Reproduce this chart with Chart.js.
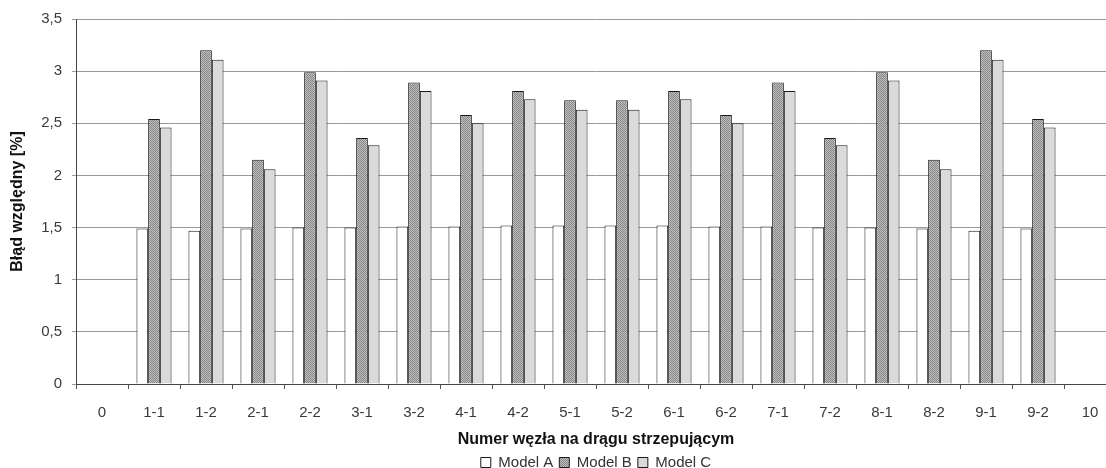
<!DOCTYPE html>
<html>
<head>
<meta charset="utf-8">
<script src="https://cdn.jsdelivr.net/npm/chart.js@4.4.0/dist/chart.umd.min.js"></script>
<style>
  html, body { margin: 0; padding: 0; background: #fff; overflow: hidden; }
  #wrap { width: 1160px; height: 468px; }
</style>
</head>
<body>
<div id="wrap"><canvas id="chart" width="1160" height="468"></canvas></div>
<script>
var labels = ['0', '1-1', '1-2', '2-1', '2-2', '3-1', '3-2', '4-1', '4-2', '5-1',
              '5-2', '6-1', '6-2', '7-1', '7-2', '8-1', '8-2', '9-1', '9-2', '10'];

var modelA = [null, 1.49, 1.47, 1.49, 1.50, 1.50, 1.51, 1.51, 1.52, 1.52,
              1.52, 1.52, 1.51, 1.51, 1.50, 1.50, 1.49, 1.47, 1.49, null];
var modelB = [null, 2.54, 3.20, 2.15, 2.99, 2.36, 2.89, 2.58, 2.81, 2.72,
              2.72, 2.81, 2.58, 2.89, 2.36, 2.99, 2.15, 3.20, 2.54, null];
var modelC = [null, 2.46, 3.11, 2.06, 2.91, 2.29, 2.81, 2.50, 2.73, 2.63,
              2.63, 2.73, 2.50, 2.81, 2.29, 2.91, 2.06, 3.11, 2.46, null];

// stippled grey fill like the old excel pattern
function stipple()
{
  var c = document.createElement('canvas');
  c.width = 2; c.height = 2;
  var ctx = c.getContext('2d');
  ctx.fillStyle = '#c0c0c0';
  ctx.fillRect(0, 0, 2, 2);
  ctx.fillStyle = '#858585';
  ctx.fillRect(0, 0, 1, 1);
  ctx.fillRect(1, 1, 1, 1);
  return ctx.createPattern(c, 'repeat');
}

function comma(v)
{
  return String(v).replace('.', ',');
}

var font = "'Liberation Sans', Arial, sans-serif";

new Chart(document.getElementById('chart'), {
  type: 'bar',
  data: {
    labels: labels,
    datasets: [
      { label: 'Model A', data: modelA, backgroundColor: '#ffffff', borderColor: '#1a1a1a', borderWidth: 1 },
      { label: 'Model B', data: modelB, backgroundColor: stipple(), borderColor: '#1a1a1a', borderWidth: 1 },
      { label: 'Model C', data: modelC, backgroundColor: '#dadada', borderColor: '#1a1a1a', borderWidth: 1 }
    ]
  },
  options: {
    responsive: false,
    animation: false,
    layout: { padding: { left: 0, right: 44, top: 15, bottom: -12 } },
    datasets: { bar: { categoryPercentage: 0.675, barPercentage: 1 } },
    plugins: {
      tooltip: { enabled: false },
      legend: {
        position: 'bottom',
        fullSize: false,
        labels: {
          font: { family: font, size: 15 },
          color: '#333',
          boxWidth: 10,
          boxHeight: 10,
          padding: 6
        }
      }
    },
    scales: {
      x: {
        grid: { offset: true, drawOnChartArea: false, drawTicks: true, tickLength: 5, color: '#555' },
        border: { color: '#444', width: 1 },
        ticks: { font: { family: font, size: 15 }, color: '#3a3a3a', padding: 15, maxRotation: 0, autoSkip: false },
        title: {
          display: true,
          text: 'Numer węzła na drągu strzepującym',
          font: { family: font, size: 16, weight: 'bold' },
          color: '#111',
          padding: { top: 9, bottom: 0 }
        },
        afterFit: function (s) { s.height = 65; }
      },
      y: {
        min: 0,
        max: 3.5,
        ticks: { stepSize: 0.5, font: { family: font, size: 15 }, color: '#3a3a3a', padding: 10,
                 callback: function (v) { return comma(v); } },
        grid: { color: '#9a9a9a', tickLength: 4, lineWidth: 1 },
        border: { color: '#444', width: 1 },
        title: {
          display: true,
          text: 'Błąd względny [%]',
          font: { family: font, size: 16, weight: 'bold' },
          color: '#111',
          padding: { top: 8, bottom: 0 }
        },
        afterFit: function (s) { s.width = 76; }
      }
    }
  }
});
</script>
</body>
</html>
